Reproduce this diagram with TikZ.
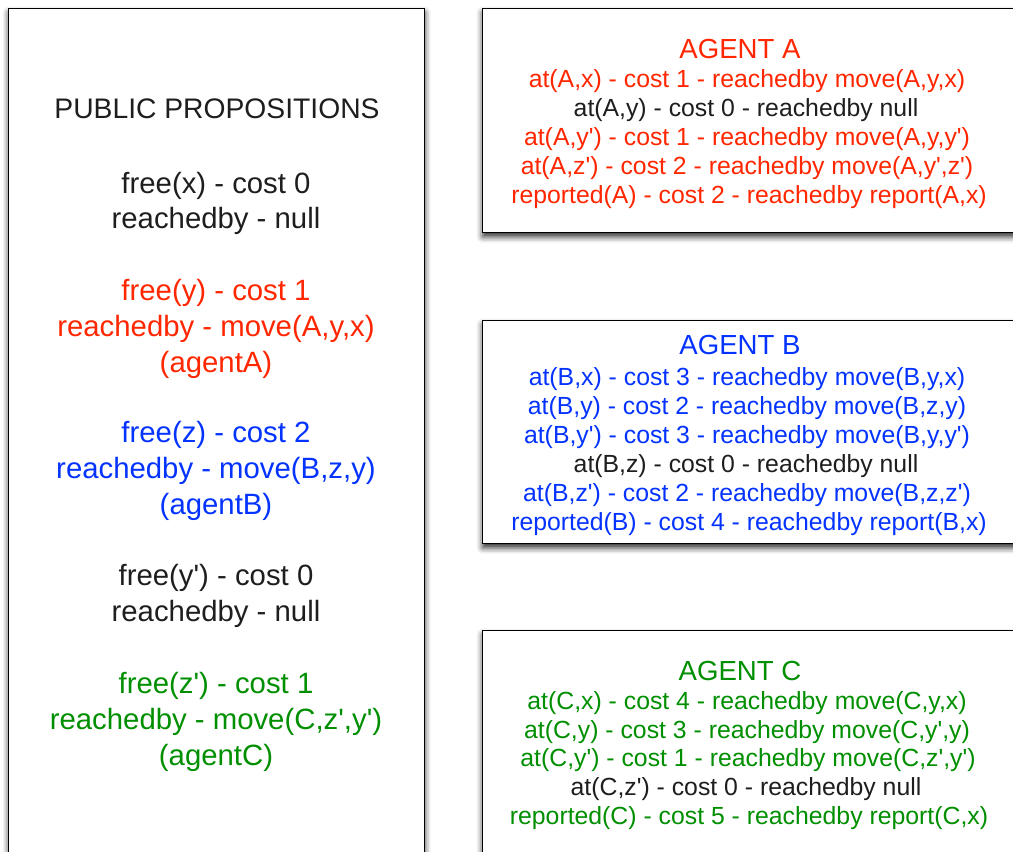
\documentclass[tikz,border=0pt]{standalone}
\usepackage{fontspec}
\setmainfont{Liberation Sans}[Ligatures=TeXOff]
\usetikzlibrary{shadows.blur}
\definecolor{agentred}{HTML}{FF2600}
\definecolor{agentblue}{HTML}{0433FF}
\definecolor{agentgreen}{HTML}{008F00}
\definecolor{nulltext}{HTML}{1E1E1E}
\tikzset{
  panel/.style={draw=black, line width=1.1pt, fill=white, anchor=north west,
    blur shadow={shadow xshift=0pt, shadow yshift=-3pt, shadow blur radius=4.5pt, shadow opacity=85}},
  pubhead/.style={font=\fontsize{21.2}{26}\selectfont, inner sep=0pt, text=nulltext},
  publine/.style={font=\fontsize{22}{26}\selectfont, inner sep=0pt},
  aghead/.style={font=\fontsize{20.7}{25}\selectfont, inner sep=0pt},
  agline/.style={font=\fontsize{18.6}{22}\selectfont, inner sep=0pt},
}

\begin{document}
\begin{tikzpicture}[x=0.75pt, y=-0.75pt]
  \useasboundingbox (0,0) rectangle (1013,852);
  \clip (0,0) rectangle (1013,852);
  % boxes
  \node[panel, minimum width=312pt, minimum height=660pt] (pubbox) at (8,8) {};
  \node[panel, minimum width=420pt, minimum height=168pt] (boxA) at (482,8) {};
  \node[panel, minimum width=420pt, minimum height=167.25pt] (boxB) at (482,320) {};
  \node[panel, minimum width=420pt, minimum height=190pt] (boxC) at (482,630) {};

  % public propositions
  \node[pubhead] (pub) at (217,109) {PUBLIC PROPOSITIONS};
  \node[publine, text=nulltext] (fx) at (216,186) {free(x) - cost 0};
  \node[publine, text=nulltext] (fxr) at (216,221) {reachedby - null};
  \node[publine, text=agentred] (fy) at (216,293) {free(y) - cost 1};
  \node[publine, text=agentred] (fyr) at (216,329) {reachedby - move(A,y,x)};
  \node[publine, text=agentred] (fya) at (216,365) {(agentA)};
  \node[publine, text=agentblue] (fz) at (216,435) {free(z) - cost 2};
  \node[publine, text=agentblue] (fzr) at (216,471) {reachedby - move(B,z,y)};
  \node[publine, text=agentblue] (fza) at (216,507) {(agentB)};
  \node[publine, text=nulltext] (fy2) at (216,578) {free(y') - cost 0};
  \node[publine, text=nulltext] (fy2r) at (216,614) {reachedby - null};
  \node[publine, text=agentgreen] (fz2) at (216,686) {free(z') - cost 1};
  \node[publine, text=agentgreen] (fz2r) at (216,722) {reachedby - move(C,z',y')};
  \node[publine, text=agentgreen] (fz2a) at (216,758) {(agentC)};

  % agent A
  \node[aghead, text=agentred] (hA) at (740,49) {AGENT A};
  \node[agline, text=agentred] (a1) at (747,81) {at(A,x) - cost 1 - reachedby move(A,y,x)};
  \node[agline, text=nulltext] (a2) at (746,110) {at(A,y) - cost 0 - reachedby null};
  \node[agline, text=agentred] (a3) at (747,139) {at(A,y') - cost 1 - reachedby move(A,y,y')};
  \node[agline, text=agentred] (a4) at (747,168) {at(A,z') - cost 2 - reachedby move(A,y',z')};
  \node[agline, text=agentred] (a5) at (749,197) {reported(A) - cost 2 - reachedby report(A,x)};

  % agent B
  \node[aghead, text=agentblue] (hB) at (740,345) {AGENT B};
  \node[agline, text=agentblue] (b1) at (747,379) {at(B,x) - cost 3 - reachedby move(B,y,x)};
  \node[agline, text=agentblue] (b2) at (747,408) {at(B,y) - cost 2 - reachedby move(B,z,y)};
  \node[agline, text=agentblue] (b3) at (747,437) {at(B,y') - cost 3 - reachedby move(B,y,y')};
  \node[agline, text=nulltext] (b4) at (746,466) {at(B,z) - cost 0 - reachedby null};
  \node[agline, text=agentblue] (b5) at (747,495) {at(B,z') - cost 2 - reachedby move(B,z,z')};
  \node[agline, text=agentblue] (b6) at (749,524) {reported(B) - cost 4 - reachedby report(B,x)};

  % agent C
  \node[aghead, text=agentgreen] (hC) at (740,671) {AGENT C};
  \node[agline, text=agentgreen] (c1) at (747,703) {at(C,x) - cost 4 - reachedby move(C,y,x)};
  \node[agline, text=agentgreen] (c2) at (747,732) {at(C,y) - cost 3 - reachedby move(C,y',y)};
  \node[agline, text=agentgreen] (c3) at (748,760) {at(C,y') - cost 1 - reachedby move(C,z',y')};
  \node[agline, text=nulltext] (c4) at (746,789) {at(C,z') - cost 0 - reachedby null};
  \node[agline, text=agentgreen] (c5) at (749,818) {reported(C) - cost 5 - reachedby report(C,x)};
\end{tikzpicture}
\end{document}
